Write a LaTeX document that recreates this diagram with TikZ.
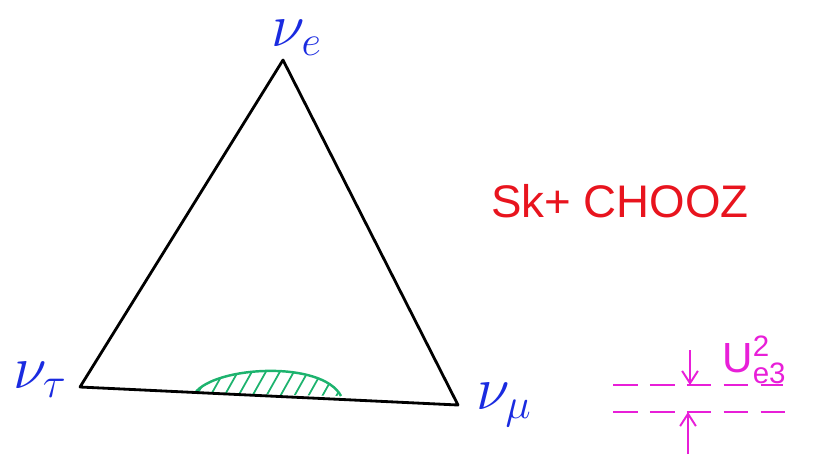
\documentclass[tikz,border=0pt]{standalone}
\usepackage{amsmath,amssymb}
\usepackage{graphicx}
\usepackage{fontspec}
\setsansfont{Liberation Sans}
\usepackage{tikz}
\usetikzlibrary{arrows.meta,positioning,calc}
\definecolor{NuBlue}{HTML}{1A2BE0}
\definecolor{NuRed}{HTML}{E8141E}
\definecolor{NuGreen}{HTML}{1DB36E}
\definecolor{NuMagenta}{HTML}{E81FD8}
\newcommand{\flavor}[1]{\scalebox{1.4}{$#1$}}

\begin{document}
\begin{tikzpicture}[x=0.02cm,y=-0.02cm,
        edge/.style={line width=1.6pt,black},
        flav/.style={text=NuBlue,font=\fontsize{24}{26}\selectfont,inner sep=0pt},
        guide/.style={NuMagenta,line width=1.1pt,dash pattern=on 14pt off 7pt},
        marker/.style={-{Straight Barb[length=7pt,width=9pt]},NuMagenta,line width=1.1pt}
      ]
        \useasboundingbox (0,0) rectangle (813,454);
        \coordinate (e) at (283,60);
        \coordinate (tau) at (80,387);
        \coordinate (mu) at (458,405);
        % allowed region
        \begin{scope}
          \clip (195,393) .. controls (215,366) and (322,360) .. (341,396) -- cycle;
          \foreach \x in {180,194,...,350}
            \draw[NuGreen,line width=1pt] (\x,400) -- ++(18,-32);
        \end{scope}
        \draw[NuGreen,line width=1.4pt] (195,393) .. controls (215,366) and (322,360) .. (341,396);
        \draw[edge,line join=round] (e) -- (mu) -- (tau) -- cycle;
        \node[flav] (nue) at (297,38) {\flavor{\nu_e}};
        \node[flav] (nutau) at (40,380) {\flavor{\nu_\tau}};
        \node[flav] (numu) at (504,405) {\flavor{\nu_\mu}};
        \node[text=NuRed,font=\sffamily\fontsize{26}{28}\selectfont] (exp) at (620,201) {Sk+ CHOOZ};
        % scale of U_e3
        \coordinate (g1a) at (613,385);
        \coordinate (g1b) at (783,385);
        \coordinate (g2a) at (613,412);
        \coordinate (g2b) at (785,412);
        \draw[guide] (g1a) -- (g1b);
        \draw[guide] (g2a) -- (g2b);
        \coordinate (topin) at (690,350);
        \coordinate (botin) at (688,454);
        \draw[marker] (topin) -- (g1a -| topin);
        \draw[marker] (botin) -- (g2a -| botin);
        \node[text=NuMagenta,font=\sffamily\fontsize{24}{26}\selectfont,anchor=base west,inner sep=0pt] (uel) at (722,372) {U$_{\mathsf{e3}}^{\mathsf{2}}$};
      \end{tikzpicture}
\end{document}
